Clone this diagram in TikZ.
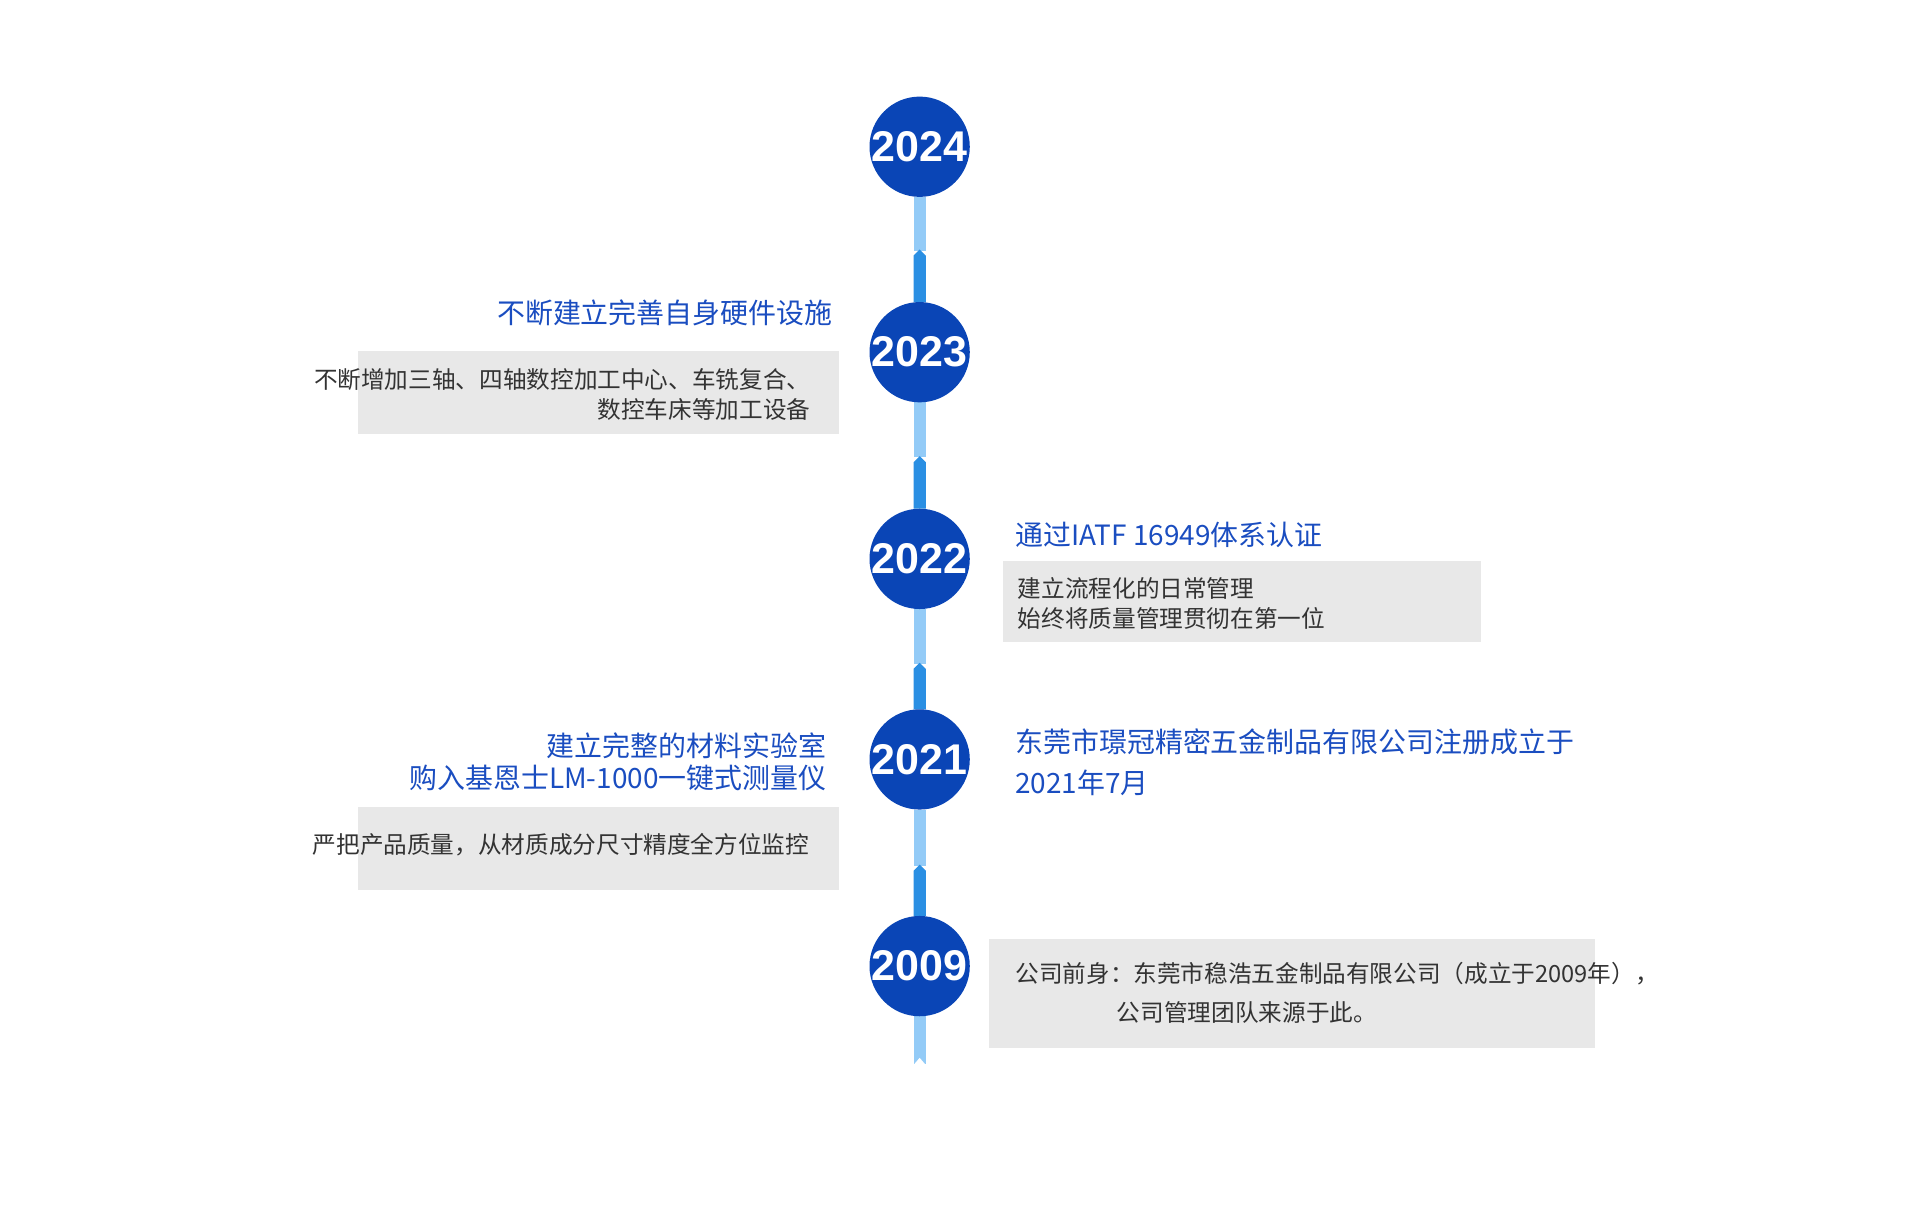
\documentclass[tikz,border=0pt]{standalone}
\usepackage{fontspec}
\setmainfont{Liberation Sans}
\newfontfamily\cjk{Noto Sans CJK SC}
\definecolor{yearblue}{HTML}{0A45B6}
\definecolor{titleblue}{HTML}{1A4DC0}
\definecolor{lineblue}{HTML}{2A8FE3}
\definecolor{paleblue}{HTML}{93CBF7}
\definecolor{boxgray}{HTML}{E8E8E8}
\definecolor{textgray}{HTML}{333333}
\begin{document}
\begin{tikzpicture}[x=0.02cm, y=-0.02cm]
  \tikzstyle{year}=[circle, fill=yearblue, minimum size=1.64cm, inner sep=0pt,
                    text=white, font=\fontsize{20}{20}\selectfont\bfseries]
  \tikzstyle{title}=[text=titleblue, font=\cjk\fontsize{13}{24}\selectfont, inner sep=0pt]
  \tikzstyle{body}=[text=textgray, font=\cjk\fontsize{11}{18}\selectfont, inner sep=0pt]
  \tikzstyle{panel}=[fill=boxgray]
  \useasboundingbox (0,0) rectangle (1570,1003);

  % timeline segments
  \foreach \top/\bot/\mid in {161/247/205, 329/416/374, 498/580/543, 662/749/708, 831/870/870} {%
    \fill[paleblue] (747,\top) rectangle (757,\mid);
    \ifnum\mid<\bot
      \fill[lineblue] (747,\mid+4) -- (752,\mid-1) -- (757,\mid+4) -- (757,\bot) -- (747,\bot) -- cycle;
    \fi
  }
  \fill[white] (746,872) -- (752,865) -- (758,872) -- cycle;

  % years
  \foreach \y/\n in {120/2024, 288/2023, 457/2022, 621/2021, 790/2009} {%
    \node[year] (y\n) at (752,\y) {\n};
  }

  % boxes
  \fill[panel] (293,287) rectangle (686,355);
  \fill[panel] (820,459) rectangle (1211,525);
  \fill[panel] (293,660) rectangle (686,728);
  \fill[panel] (809,768) rectangle (1304,857);

  % 2023
  \node[title, anchor=east] (t2023) at (681,256) {不断建立完善自身硬件设施};
  \node[body, anchor=east] (b2023a) at (663,310) {不断增加三轴、四轴数控加工中心、车铣复合、};
  \node[body, anchor=east] (b2023b) at (663,335) {数控车床等加工设备};

  % 2022
  \node[title, anchor=west] (t2022) at (830,437) {通过IATF 16949体系认证};
  \node[body, anchor=west] (b2022a) at (832,481) {建立流程化的日常管理};
  \node[body, anchor=west] (b2022b) at (832,506) {始终将质量管理贯彻在第一位};

  % 2021
  \node[title, anchor=east] (t2021a) at (676,610) {建立完整的材料实验室};
  \node[title, anchor=east] (t2021b) at (676,636) {购入基恩士LM-1000一键式测量仪};
  \node[body, anchor=east] (b2021) at (662,691) {严把产品质量，从材质成分尺寸精度全方位监控};
  \node[title, anchor=west] (r2021a) at (830,607) {东莞市璟冠精密五金制品有限公司注册成立于};
  \node[title, anchor=west] (r2021b) at (830,640) {2021年7月};

  % 2009
  \node[body, anchor=west] (b2009a) at (830,796) {公司前身：东莞市稳浩五金制品有限公司（成立于2009年），};
  \node[body, anchor=west] (b2009b) at (913,828) {公司管理团队来源于此。};
\end{tikzpicture}
\end{document}
